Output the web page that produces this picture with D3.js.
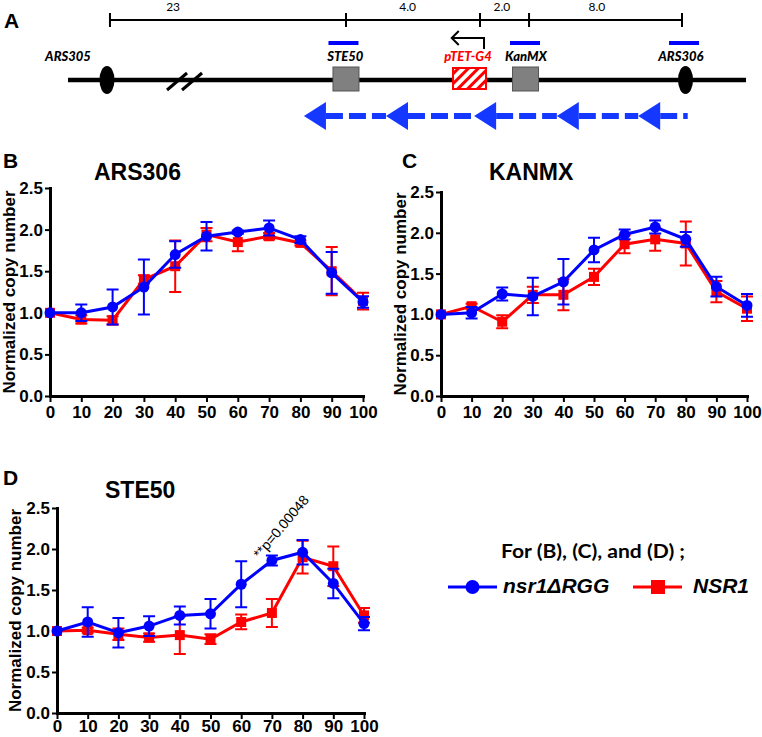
<!DOCTYPE html>
<html><head><meta charset="utf-8">
<script src="https://cdn.jsdelivr.net/npm/d3@7"></script>
<style>body{margin:0;background:#fff} svg{display:block}</style>
</head><body>
<svg id="c" width="762" height="737"></svg>
<script>
// ---------- DATA ----------
const timepoints = [0,10,20,30,40,50,60,70,80,90,100];
const yTicks = [0,0.5,1,1.5,2,2.5];
const seriesNames = ["nsr1\u0394RGG","NSR1"];

// (B) ARS306
const ars306_dRGG     = [1.00,1.00,1.07,1.31,1.70,1.92,1.97,2.02,1.88,1.48,1.13];
const ars306_dRGG_err = [0,0.10,0.21,0.33,0.16,0.17,0.02,0.09,0.04,0.25,0.07];
const ars306_NSR1     = [1.00,0.92,0.91,1.40,1.56,1.94,1.85,1.92,1.84,1.50,1.14];
const ars306_NSR1_err = [0,0.05,0.05,0.05,0.31,0.08,0.11,0.04,0.03,0.29,0.10];
// (C) KANMX
const kanmx_dRGG      = [1.00,1.02,1.25,1.22,1.40,1.79,1.98,2.07,1.92,1.34,1.11];
const kanmx_dRGG_err  = [0,0.07,0.08,0.23,0.28,0.15,0.06,0.08,0.09,0.12,0.14];
const kanmx_NSR1      = [1.00,1.10,0.91,1.24,1.24,1.46,1.86,1.92,1.87,1.28,1.07];
const kanmx_NSR1_err  = [0,0.03,0.08,0.10,0.19,0.10,0.11,0.14,0.27,0.13,0.15];
// (D) STE50
const ste50_dRGG      = [1.00,1.11,0.98,1.06,1.19,1.21,1.57,1.86,1.96,1.58,1.09];
const ste50_dRGG_err  = [0,0.18,0.18,0.12,0.11,0.18,0.28,0.06,0.15,0.18,0.08];
const ste50_NSR1      = [1.00,1.01,0.96,0.92,0.95,0.90,1.11,1.22,1.90,1.79,1.19];
const ste50_NSR1_err  = [0,0.03,0.07,0.05,0.23,0.06,0.09,0.17,0.20,0.24,0.09];
const ste50_pLabel = "**p=0.00048";

// (A) schematic, in map units (0-100)
const scaleBarTicks  = [6.19,41.0,60.77,68.0,90.56];
const scaleBarLabels = ["23","4.0","2.0","8.0"];
const scaleLabelPos  = [15.5,50.1,64.0,78.0];
const origins        = [{name:"ARS305",pos:5.75,label:0.0},{name:"ARS306",pos:91.08,label:90.4}];
const geneBoxes      = [{name:"STE50",pos:41.0,label:40.9},{name:"KanMX",pos:67.48,label:67.55}];
const promoter       = {name:"pTET-G4",pos:59.22,label:59.0};
const probes         = [40.63,67.4,90.86];
const forkArrowTips  = [34.8,46.9,59.9,72.1,84.1];
const forkEnd        = 91.4;
const breakPos       = 17.26;

// ---------- DRAW ----------
const svg = d3.select("#c");
const BLUE = "#0000ff", RED = "#ff0000", ARROWBLUE = "#1438ff";
const F = "'Liberation Sans', Arial, sans-serif";
const FC = "Lato, 'Open Sans', sans-serif";

// Panel A
const mx = d3.scaleLinear().domain([0,100]).range([68,746]);
const gA = svg.append("g");
gA.append("text").attr("x",4).attr("y",28).text("A")
  .attr("font-family",F).attr("font-weight","bold").attr("font-size",21);
// scale bar
gA.append("line").attr("x1",mx(scaleBarTicks[0])).attr("x2",mx(scaleBarTicks[scaleBarTicks.length-1]))
  .attr("y1",20).attr("y2",20).attr("stroke","#000").attr("stroke-width",2);
gA.selectAll(".sbt").data(scaleBarTicks).enter().append("line")
  .attr("x1",d=>mx(d)).attr("x2",d=>mx(d)).attr("y1",13).attr("y2",27)
  .attr("stroke","#000").attr("stroke-width",2);
gA.selectAll(".sbl").data(scaleBarLabels).enter().append("text")
  .attr("x",(d,i)=>mx(scaleLabelPos[i])).attr("y",11).attr("text-anchor","middle")
  .attr("font-family",FC).attr("font-size",12).text(d=>d);
// chromosome
gA.append("line").attr("x1",mx(0)).attr("x2",mx(100)).attr("y1",80).attr("y2",80)
  .attr("stroke","#000").attr("stroke-width",4.5);
// break marks
[0,15].forEach(o=>{
  gA.append("line").attr("x1",mx(breakPos)-18+o).attr("y1",90).attr("x2",mx(breakPos)+2+o).attr("y2",73)
    .attr("stroke","#000").attr("stroke-width",3);
});
// origins
gA.selectAll(".ori").data(origins).enter().append("ellipse")
  .attr("cx",d=>mx(d.pos)).attr("cy",80).attr("rx",7.5).attr("ry",14).attr("fill","#000");
// gene boxes
gA.selectAll(".gb").data(geneBoxes).enter().append("rect")
  .attr("x",d=>mx(d.pos)-13).attr("y",67).attr("width",26).attr("height",24)
  .attr("fill","#808080").attr("stroke","#555").attr("stroke-width",1);
// promoter hatched box
const defs = svg.append("defs");
const pat = defs.append("pattern").attr("id","hatch").attr("patternUnits","userSpaceOnUse")
  .attr("width",7).attr("height",7).attr("patternTransform","rotate(45)");
pat.append("rect").attr("width",7).attr("height",7).attr("fill","#fff");
pat.append("rect").attr("x",0).attr("width",3).attr("height",7).attr("fill",RED);
gA.append("rect").attr("x",mx(promoter.pos)-16.5).attr("y",68).attr("width",33).attr("height",21)
  .attr("fill","url(#hatch)").attr("stroke",RED).attr("stroke-width",2);
// probes
gA.selectAll(".pr").data(probes).enter().append("rect")
  .attr("x",d=>mx(d)-15).attr("y",41).attr("width",30).attr("height",4).attr("fill",BLUE);
// labels
const featLabels = [...origins, ...geneBoxes.slice(0,1), promoter, ...geneBoxes.slice(1)];
gA.selectAll(".fl").data(featLabels).enter().append("text")
  .attr("x",d=>mx(d.label)).attr("y",61).attr("text-anchor","middle")
  .attr("font-family",FC).attr("font-weight","900").attr("font-style","italic").attr("font-size",13)
  .attr("fill",d=>d.name===promoter.name?RED:"#000").text(d=>d.name);
// bent arrow
const bx = mx(61.36), bx2 = mx(56.6);
gA.append("path").attr("d",`M${bx},49 V38 H${bx2}`).attr("fill","none").attr("stroke","#000").attr("stroke-width",2);
gA.append("path").attr("d",`M${bx2+7},31 L${bx2},38 L${bx2+7},45`).attr("fill","none").attr("stroke","#000").attr("stroke-width",2);
// fork arrows
forkArrowTips.forEach((t,i)=>{
  const tip = mx(t), base = tip+22;
  const next = i<forkArrowTips.length-1 ? mx(forkArrowTips[i+1]) : mx(forkEnd);
  gA.append("line").attr("x1",base).attr("x2",next).attr("y1",116).attr("y2",116)
    .attr("stroke",ARROWBLUE).attr("stroke-width",6).attr("stroke-dasharray","17,6");
  gA.append("path").attr("d",`M${tip},116 L${base},102 L${base},130 Z`).attr("fill",ARROWBLUE);
});

// Chart panels
const panels = [
  {letter:"B", lx:3, ly:168, title:"ARS306", tx:94, ty:180, left:50, right:363, top:188, bottom:396, labX:15, tickPad:4,
   blue:ars306_dRGG, blueErr:ars306_dRGG_err, red:ars306_NSR1, redErr:ars306_NSR1_err},
  {letter:"C", lx:402, ly:168, title:"KANMX", tx:489, ty:180, left:441, right:747, top:192, bottom:396, labX:406, tickPad:4,
   blue:kanmx_dRGG, blueErr:kanmx_dRGG_err, red:kanmx_NSR1, redErr:kanmx_NSR1_err},
  {letter:"D", lx:3, ly:485, title:"STE50", tx:105, ty:498, left:57, right:364, top:508, bottom:713, labX:21, tickPad:1,
   blue:ste50_dRGG, blueErr:ste50_dRGG_err, red:ste50_NSR1, redErr:ste50_NSR1_err, note:ste50_pLabel}
];

panels.forEach(p=>{
  const g = svg.append("g");
  const x = d3.scaleLinear().domain([0,100]).range([p.left,p.right]);
  const y = d3.scaleLinear().domain([0,2.5]).range([p.bottom,p.top]);
  g.append("text").attr("x",p.lx).attr("y",p.ly).text(p.letter)
    .attr("font-family",F).attr("font-weight","bold").attr("font-size",21);
  g.append("text").attr("x",p.tx).attr("y",p.ty).text(p.title)
    .attr("font-family",F).attr("font-weight","bold").attr("font-size",23);
  g.append("text").attr("transform",`translate(${p.labX},${(p.top+p.bottom)/2}) rotate(-90)`)
    .attr("text-anchor","middle").attr("font-family",F).attr("font-weight","bold").attr("font-size",17)
    .text("Normalized copy number");
  const xa = g.append("g").attr("transform",`translate(0,${p.bottom})`)
    .call(d3.axisBottom(x).tickValues(timepoints).tickSize(6).tickPadding(p.tickPad).tickSizeOuter(0));
  const ya = g.append("g").attr("transform",`translate(${p.left},0)`)
    .call(d3.axisLeft(y).tickValues(yTicks).tickFormat(d3.format(".1f")).tickSize(5).tickPadding(2).tickSizeOuter(0));
  [xa,ya].forEach(a=>{
    a.select(".domain").attr("stroke-width",3).attr("stroke-linecap","square");
    a.selectAll(".tick line").attr("stroke-width",2);
    a.selectAll("text").attr("font-family",F).attr("font-weight","bold").attr("font-size",17).attr("fill","#000");
  });
  const series = [
    {vals:p.red, err:p.redErr, color:RED, shape:"square"},
    {vals:p.blue, err:p.blueErr, color:BLUE, shape:"circle"}
  ];
  series.forEach(s=>{
    const pts = timepoints.map((t,i)=>({t, v:s.vals[i], e:s.err[i]}));
    g.append("path").datum(pts).attr("fill","none").attr("stroke",s.color).attr("stroke-width",3)
      .attr("d",d3.line().x(d=>x(d.t)).y(d=>y(d.v)));
    const eb = g.append("g").attr("stroke",s.color).attr("stroke-width",2).attr("fill","none");
    pts.filter(d=>d.e>0).forEach(d=>{
      const cx = x(d.t), y1 = y(d.v+d.e), y2 = y(d.v-d.e);
      eb.append("path").attr("d",`M${cx},${y1} V${y2} M${cx-6},${y1} H${cx+6} M${cx-6},${y2} H${cx+6}`);
    });
    if (s.shape==="circle") {
      g.selectAll(null).data(pts).enter().append("circle")
        .attr("cx",d=>x(d.t)).attr("cy",d=>y(d.v)).attr("r",5.5).attr("fill",s.color);
    } else {
      g.selectAll(null).data(pts).enter().append("rect")
        .attr("x",d=>x(d.t)-5).attr("y",d=>y(d.v)-5).attr("width",10).attr("height",10).attr("fill",s.color);
    }
  });
  if (p.note) {
    const i = timepoints.indexOf(70);
    g.append("text").attr("transform",`translate(${x(70)-12},${y(p.blue[i]+p.blueErr[i])+4}) rotate(-50)`)
      .attr("font-family",F).attr("font-size",14).text(p.note);
  }
});

// Legend
const gL = svg.append("g");
gL.append("text").attr("x",501).attr("y",558).text("For (B), (C), and (D) ;")
  .attr("font-family",FC).attr("font-weight","bold").attr("font-size",19)
  .attr("textLength",184).attr("lengthAdjust","spacingAndGlyphs");
gL.append("line").attr("x1",448).attr("x2",497).attr("y1",587).attr("y2",587).attr("stroke",BLUE).attr("stroke-width",3);
gL.append("circle").attr("cx",472.5).attr("cy",587).attr("r",7).attr("fill",BLUE);
gL.append("text").attr("x",503).attr("y",593).text(seriesNames[0])
  .attr("font-family",F).attr("font-weight","bold").attr("font-style","italic").attr("font-size",21);
gL.append("line").attr("x1",633).attr("x2",682).attr("y1",587).attr("y2",587).attr("stroke",RED).attr("stroke-width",3);
gL.append("rect").attr("x",651).attr("y",580).attr("width",14).attr("height",14).attr("fill",RED);
gL.append("text").attr("x",693).attr("y",593).text(seriesNames[1])
  .attr("font-family",F).attr("font-weight","bold").attr("font-style","italic").attr("font-size",21);
</script>
</body></html>
